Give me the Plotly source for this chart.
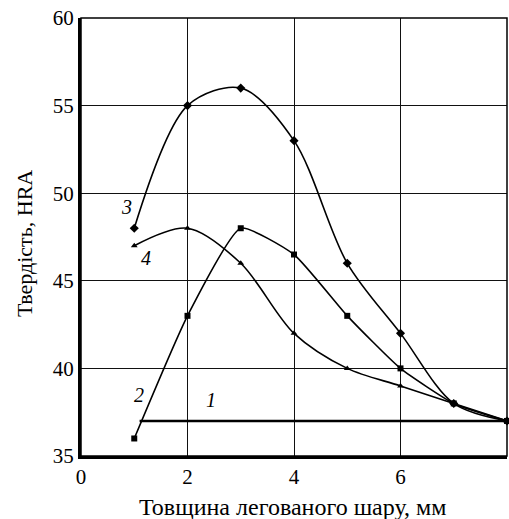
import plotly.graph_objects as go

x_vals = [1, 2, 3, 4, 5, 6, 7, 8]
line1_x = [1.1, 8]
line1_y = [37, 37]
curve2 = [36, 43, 48, 46.5, 43, 40, 38, 37]
curve3 = [48, 55, 56, 53, 46, 42, 38, 37]
curve4 = [47, 48, 46, 42, 40, 39, 38, 37]
x_ticks = [0, 2, 4, 6, 8]
y_ticks = [35, 40, 45, 50, 55, 60]
labels = ["1", "2", "3", "4"]
label_x = [2.45, 1.08, 0.86, 1.22]
label_y = [38.2, 38.5, 49.2, 46.3]
x_title = "Товщина легованого шару, мм"
y_title = "Твердість, HRA"

FONT = "Liberation Serif"

fig = go.Figure()
fig.add_trace(go.Scatter(x=line1_x, y=line1_y, mode="lines",
                         line=dict(color="black", width=2.5), cliponaxis=False))
fig.add_trace(go.Scatter(x=x_vals, y=curve2, mode="lines+markers",
                         line=dict(color="black", width=1.6, shape="spline", smoothing=0.5),
                         marker=dict(symbol="square", size=6, color="black"), cliponaxis=False))
fig.add_trace(go.Scatter(x=x_vals, y=curve3, mode="lines+markers",
                         line=dict(color="black", width=1.6, shape="spline", smoothing=0.9),
                         marker=dict(symbol="diamond", size=7, color="black"), cliponaxis=False))
fig.add_trace(go.Scatter(x=x_vals, y=curve4, mode="lines+markers",
                         line=dict(color="black", width=1.6, shape="spline", smoothing=0.9),
                         marker=dict(symbol="triangle-up", size=6, color="black"), cliponaxis=False))

for t, lx, ly in zip(labels, label_x, label_y):
    fig.add_annotation(x=lx, y=ly, text="<i>" + t + "</i>", showarrow=False,
                       font=dict(family=FONT, size=20, color="black"))

fig.add_annotation(xref="paper", yref="paper", x=0.497, y=-0.116, text=x_title, showarrow=False,
                   xanchor="center", yanchor="middle", font=dict(family=FONT, size=24, color="black"))
fig.add_annotation(xref="paper", yref="paper", x=-0.134, y=0.486, text=y_title, showarrow=False,
                   textangle=-90, xanchor="center", yanchor="middle",
                   font=dict(family=FONT, size=22, color="black"))

fig.add_shape(type="rect", xref="paper", yref="paper", x0=0, y0=0, x1=1, y1=1,
              line=dict(color="black", width=1.5), layer="above")

fig.update_layout(
    width=509, height=519,
    margin=dict(l=81, r=2, t=18, b=63),
    paper_bgcolor="white", plot_bgcolor="white",
    showlegend=False,
    font=dict(family=FONT, size=21, color="black"),
    xaxis=dict(range=[0, 8], tickvals=x_ticks, showgrid=True, gridcolor="#111111", gridwidth=1.4,
               showline=True, linecolor="#000000", linewidth=3, zeroline=False,
               ticks="", tickfont=dict(family=FONT, size=21)),
    yaxis=dict(range=[35, 60], tickvals=y_ticks, showgrid=True, gridcolor="#111111", gridwidth=1.4,
               showline=True, linecolor="#000000", linewidth=3, zeroline=False,
               ticks="", tickfont=dict(family=FONT, size=21)),
)

fig.write_html("out.html", config={"displayModeBar": False},
               post_script="document.body.style.margin='0';document.body.style.overflow='hidden';")
